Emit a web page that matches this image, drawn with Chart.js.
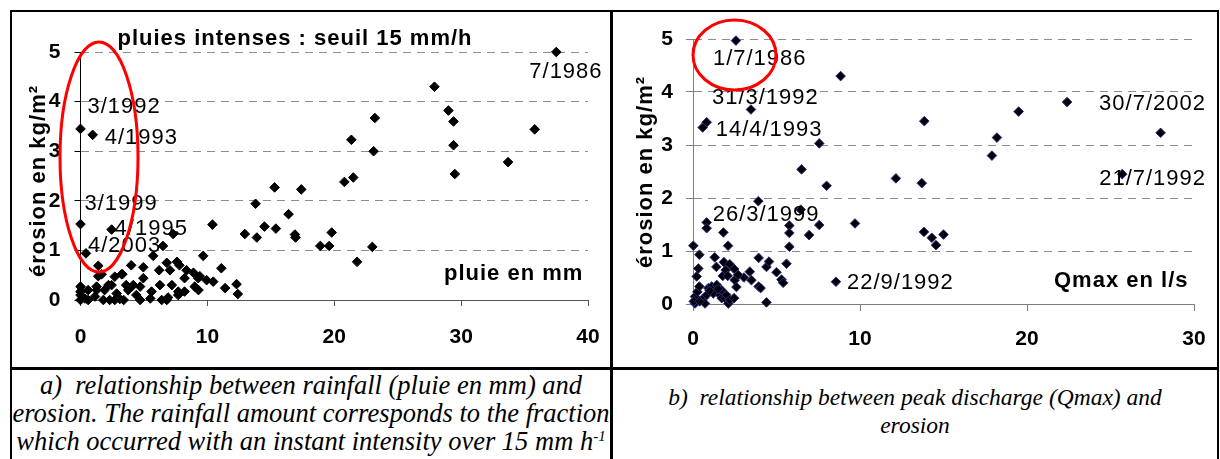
<!DOCTYPE html>
<html>
<head>
<meta charset="utf-8">
<script src="https://cdn.jsdelivr.net/npm/chart.js@4.4.1/dist/chart.umd.min.js"></script>
<style>
  body { margin: 0; width: 1220px; height: 459px; overflow: hidden; position: relative; background: #fff; }
  .rule { position: absolute; background: #000; }
  canvas { position: absolute; }
  .cap { position: absolute; font-family: "Liberation Serif", "Times New Roman", serif; font-style: italic;
         line-height: 28px; text-align: center; white-space: nowrap; color: #000; }
  .cap sup { font-size: 15px; line-height: 0; vertical-align: 9px; }
</style>
</head>
<body>
<div class="rule" style="left:10px;top:10px;width:1209px;height:2px"></div>
<div class="rule" style="left:10px;top:10px;width:2px;height:449px"></div>
<div class="rule" style="left:1217px;top:10px;width:2px;height:449px"></div>
<div class="rule" style="left:610px;top:10px;width:3px;height:449px"></div>
<div class="rule" style="left:10px;top:367px;width:1209px;height:3px"></div>

<canvas id="rainChart" width="598" height="354" style="left:12px;top:12px"></canvas>
<canvas id="qmaxChart" width="602" height="354" style="left:614px;top:12px"></canvas>

<div class="cap" style="left:12px;width:598px;top:371px;font-size:26.5px">
  a)&nbsp; relationship between rainfall (pluie en mm) and<br>
  erosion. The rainfall amount corresponds to the fraction<br>
  which occurred with an instant intensity over 15 mm h<sup>-1</sup>
</div>
<div class="cap" style="left:613px;width:604px;top:383px;font-size:23.5px">
  b)&nbsp; relationship between peak discharge (Qmax) and<br>
  erosion
</div>

<script>
// a) rainfall over 15 mm/h (mm) vs erosion (kg/m2)
const rainMm = [37.5, 27.9, 29.0, 29.4, 23.2, 21.35, 23.1, 29.4, 35.8, 33.7, 29.5, 21.5, 20.8, 17.4, 15.3,
  13.8, 16.4, 14.5, 15.4, 16.9, 16.95, 13.9, 12.95, 10.4, 7.3, 6.5, 18.9, 19.6, 19.8, 23.0, 21.8,
  0, 0.96, 0, 2.45, 0.43,
  9.67, 5.73, 4.0, 6.8, 7.6, 7.8, 1.4, 1.67, 3.24, 2.7, 4.95, 6.2, 7.05, 8.36, 8.9, 11.1, 9.28, 9.94,
  10.46, 12.3, 11.4, 12.4, 9.0, 9.3, 7.7, 8.2, 6.26, 5.6, 4.7, 4.16, 3.76, 4.4, 4.7, 3.4, 2.85, 2.45,
  1.9, 1.27, 1.14, 0.6, 0, 0, 0, 0, 0.35, 1.8, 2.3, 2.7, 3.1, 5.5, 6.4, 6.8, 6.9, 4.95, 3.3, 9.4,
  7.2, 7.7, 0.6, 1.27, 2.2, 3.6, 8.2, 1.4];
const rainErosion = [5.0, 4.3, 3.82, 3.6, 3.67, 3.23, 3.0, 3.12, 3.44, 2.78, 2.54, 2.47, 2.38, 2.23, 2.27,
  1.94, 1.73, 1.48, 1.44, 1.32, 1.26, 1.26, 1.33, 1.52, 1.33, 1.09, 1.09, 1.09, 1.36, 1.07, 0.77,
  3.45, 3.33, 1.53, 1.42, 0.94,
  0.89, 0.89, 0.7, 0.75, 0.77, 0.7, 0.69, 0.52, 0.52, 0.47, 0.44, 0.6, 0.6, 0.6, 0.55, 0.64, 0.44, 0.4,
  0.37, 0.32, 0.24, 0.12, 0.27, 0.2, 0.17, 0.17, 0.3, 0.17, 0.27, 0.3, 0.2, 0.1, 0, 0, 0.13, 0.3,
  0.2, 0.2, 0.07, 0, 0.27, 0.17, 0.1, 0, 0.03, 0, 0, 0, 0.02, 0.03, 0, 0, 0.05, 0.66, 0.52, 0.48,
  0.3, 0.1, 0.2, 0.27, 0.3, 0.3, 0.44, 0.48];

// b) peak discharge (l/s) vs erosion (kg/m2)
const qmaxLs = [2.57, 8.84, 3.47, 0.58, 0.82, 7.56, 6.5, 12.15, 13.85, 19.5, 22.4, 18.2, 17.9, 28.0, 25.7,
  13.7, 13.83, 14.3, 14.55, 15.0, 8.0, 9.7, 3.91, 6.45, 7.56, 6.95, 5.77, 5.77, 5.77, 5.6, 0.82, 0.82,
  1.82, 2.1, 0.02, 0.38, 0.32, 0.22, 1.3, 1.4, 1.85, 1.78, 2.2, 2.47, 1.96, 2.5, 2.6, 3.05, 3.4, 3.5,
  3.93, 4.4, 4.55, 5.0, 5.3, 5.4, 3.93, 4.05, 4.4, 8.56, 0.12, 0.12, 0.26, 0.38, 0.62, 0.72, 0.82,
  0.92, 1.12, 1.22, 1.42, 1.62, 1.72, 1.72, 1.92, 2.12, 2.0, 2.2, 2.46, 0.05, 0.4, 1.0, 1.5, 2.08, 2.7];
const qmaxErosion = [4.97, 4.3, 3.67, 3.33, 3.43, 3.03, 2.54, 2.37, 3.45, 3.63, 3.81, 3.14, 2.8, 3.23, 2.45,
  2.28, 1.36, 1.25, 1.11, 1.31, 2.23, 1.52, 1.94, 1.78, 1.49, 1.3, 1.48, 1.34, 1.08, 0.76, 1.54, 1.43,
  1.35, 1.1, 1.1, 0.93, 0.67, 0.52, 0.88, 0.7, 0.79, 0.53, 0.75, 0.66, 0.64, 0.45, 0.32, 0.5, 0.61, 0.45,
  0.87, 0.7, 0.8, 0.6, 0.46, 0.4, 0.33, 0.3, 0.03, 0.42, 0.14, 0.01, 0.23, 0.33, 0.11, 0.01, 0.17,
  0.3, 0.33, 0.2, 0.36, 0.17, 0.11, 0.26, 0.11, 0.01, 0.17, 0.08, 0.11, 0.05, 0.05, 0.25, 0.28, 0.53, 0.55];

const rainTicks = [0, 10, 20, 30, 40];
const qmaxTicks = [0, 10, 20, 30];
const erosionTicks = [0, 1, 2, 3, 4, 5];

// dated events: text and the point they belong to
const rainEvents = ["3/1992", "4/1993", "3/1999", "4/1995", "4/2003", "7/1986"];
const rainEventX = [0, 0.96, 0, 2.45, 0.43, 37.5];
const rainEventY = [3.45, 3.33, 1.53, 1.42, 0.94, 5.0];
const qmaxEvents = ["1/7/1986", "31/3/1992", "14/4/1993", "26/3/1999", "22/9/1992", "30/7/2002", "21/7/1992"];
const qmaxEventX = [2.57, 3.47, 0.82, 0.82, 8.56, 22.4, 25.7];
const qmaxEventY = [4.97, 3.67, 3.43, 1.54, 0.42, 3.81, 2.45];

const SANS = "'Liberation Sans', Arial, sans-serif";

function setText(ctx, size, bold) {
  ctx.font = (bold ? "bold " : "") + size + "px " + SANS;
  ctx.letterSpacing = "1px";
}

const extras = {
  id: "extras",
  afterDatasetsDraw(chart, args, o) {
    const { ctx } = chart;
    const x = chart.scales.x;
    const y = chart.scales.y;
    ctx.save();
    ctx.fillStyle = "#000";
    ctx.textBaseline = "alphabetic";
    ctx.textAlign = "left";

    // event dates
    setText(ctx, 22, false);
    o.events.forEach((t, i) => {
      const px = x.getPixelForValue(o.eventX[i]) + o.offsets[i][0];
      const py = y.getPixelForValue(o.eventY[i]) + o.offsets[i][1];
      ctx.fillText(t, px, py);
    });

    // in-plot axis name
    setText(ctx, 22, true);
    ctx.fillText(o.xName, o.xNamePos[0], o.xNamePos[1]);

    if (o.heading) {
      ctx.textAlign = "center";
      ctx.fillText(o.heading, o.headingPos[0], o.headingPos[1]);
    }

    // vertical axis title
    ctx.save();
    ctx.translate(o.yNamePos[0], o.yNamePos[1]);
    ctx.rotate(-Math.PI / 2);
    ctx.textAlign = "center";
    ctx.fillText("érosion en kg/m²", 0, 0);
    ctx.restore();

    // red highlight ring
    const r = o.ring;
    ctx.beginPath();
    ctx.ellipse(x.getPixelForValue(r.cx) + r.dx, y.getPixelForValue(r.cy) + r.dy, r.rx, r.ry, r.rot, 0, Math.PI * 2);
    ctx.strokeStyle = "#ff0000";
    ctx.lineWidth = 3;
    ctx.stroke();
    ctx.restore();
  }
};

function makeChart(id, xs, ys, xTicks, xMax, look) {
  const points = xs.map((v, i) => ({ x: v, y: ys[i] }));
  return new Chart(document.getElementById(id), {
    type: "scatter",
    data: {
      datasets: [{
        data: points,
        pointStyle: "rectRot",
        pointRadius: 4.8,
        pointBackgroundColor: "#000",
        pointBorderColor: look.pointEdge,
        pointBorderWidth: 1,
        clip: false
      }]
    },
    options: {
      responsive: false,
      animation: false,
      devicePixelRatio: 1,
      layout: { padding: { left: 0, top: look.top, right: look.right, bottom: 0 } },
      plugins: {
        legend: { display: false },
        tooltip: { enabled: false },
        extras: look.extras
      },
      scales: {
        x: {
          type: "linear",
          min: 0,
          max: xMax,
          afterBuildTicks: (s) => { s.ticks = xTicks.map((v) => ({ value: v })); },
          afterFit: (s) => { s.height = look.xHeight; s.paddingLeft = 0; s.paddingRight = 0; },
          grid: { drawOnChartArea: false, drawTicks: true, tickLength: look.tickLen, tickColor: look.axisColor },
          border: { color: look.axisColor, width: 1 },
          ticks: { color: "#000", padding: look.xPad, font: { family: SANS, size: 21, weight: "bold" } }
        },
        y: {
          type: "linear",
          min: 0,
          max: 5,
          afterBuildTicks: (s) => { s.ticks = erosionTicks.map((v) => ({ value: v })); },
          afterFit: (s) => { s.width = look.yWidth; s.paddingTop = 0; s.paddingBottom = 0; },
          grid: { color: "#8c8c8c", lineWidth: 1, tickLength: look.tickLen, tickColor: look.yAxisColor },
          border: { color: look.yAxisColor, width: 1, dash: [8, 6] },
          ticks: { color: "#000", padding: look.yPad, font: { family: SANS, size: 21, weight: "bold" } }
        }
      }
    },
    plugins: [extras]
  });
}

makeChart("rainChart", rainMm, rainErosion, rainTicks, 40, {
  top: 40, right: 22, xHeight: 66, yWidth: 68.5, tickLen: 6, xPad: 19, yPad: 14,
  axisColor: "#555", yAxisColor: "#000", pointEdge: "#000",
  extras: {
    events: rainEvents, eventX: rainEventX, eventY: rainEventY,
    offsets: [[7, -16], [12, 9], [4, -14], [3, 5], [2, -1], [-27, 26]],
    xName: "pluie en mm", xNamePos: [432, 268],
    heading: "pluies intenses : seuil 15 mm/h", headingPos: [283, 33],
    yNamePos: [33, 169],
    ring: { cx: 0, cy: 0, dx: 18.5, dy: -143, rx: 39, ry: 115, rot: 0 }
  }
});

makeChart("qmaxChart", qmaxLs, qmaxErosion, qmaxTicks, 30, {
  top: 27, right: 22, xHeight: 62, yWidth: 79, tickLen: 7, xPad: 16, yPad: 13,
  axisColor: "#808080", yAxisColor: "#808080", pointEdge: "#2b2b8c",
  extras: {
    events: qmaxEvents, eventX: qmaxEventX, eventY: qmaxEventY,
    offsets: [[-23, 24], [-39, -5], [9, 14], [6, -1], [11, 7], [32, 8], [-23, 11]],
    xName: "Qmax en l/s", xNamePos: [440, 275],
    heading: "", headingPos: [0, 0],
    yNamePos: [38, 160],
    ring: { cx: 0, cy: 5, dx: 41.5, dy: 16, rx: 41.5, ry: 35, rot: 0 }
  }
});
</script>
</body>
</html>
